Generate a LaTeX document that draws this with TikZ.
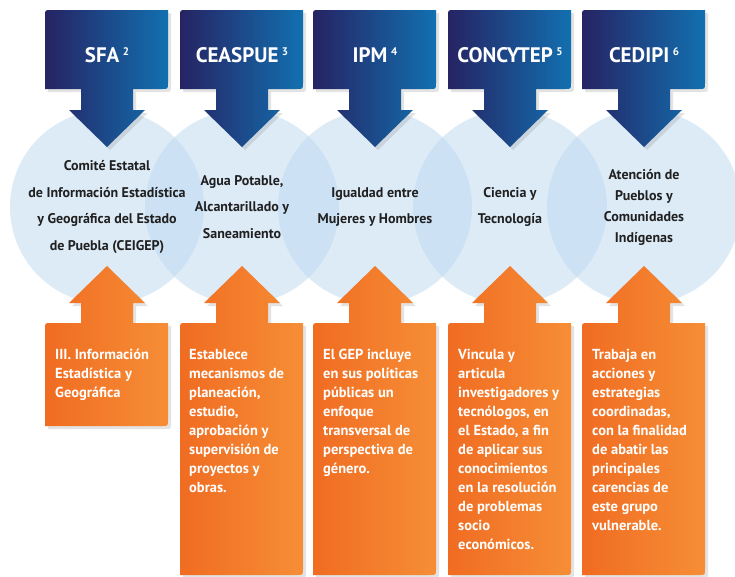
\documentclass[tikz,border=0pt]{standalone}
\usepackage{fontspec}
\setmainfont{PT Sans}
\usetikzlibrary{shadows}
\definecolor{navyL}{RGB}{38,35,99}
\definecolor{blueR}{RGB}{18,112,176}
\definecolor{orgL}{RGB}{240,108,34}
\definecolor{orgR}{RGB}{246,142,54}
\definecolor{circc}{RGB}{189,217,241}
\definecolor{txtc}{RGB}{32,32,32}
\newcommand\supnum[1]{\,{\fontsize{11}{11}\selectfont\raisebox{7pt}{#1}}}
\tikzset{
  blueshade/.style={left color=navyL, right color=blueR, drop shadow={opacity=0.22, shadow xshift=3pt, shadow yshift=-3pt}},
  orgshade/.style={left color=orgL, right color=orgR, drop shadow={opacity=0.22, shadow xshift=3pt, shadow yshift=-3pt}},
  circfill/.style={fill=circc, opacity=0.5},
  headtxt/.style={text=white, font=\bfseries\fontsize{21}{23}\selectfont, inner sep=0pt, anchor=base},
  circtxt/.style={text=txtc, font=\bfseries\fontsize{14}{26.7}\selectfont, align=center, inner sep=0pt},
  orgtxt/.style={text=white, font=\bfseries\fontsize{14.5}{19}\selectfont, align=left, inner sep=0pt, anchor=north west},
}
\begin{document}
\begin{tikzpicture}[x=1pt,y=-1pt]
\useasboundingbox (0,0) rectangle (735,576);
\fill[white] (0,0) rectangle (735,576);
% circles
\foreach \cx in {107,242,375,510,644}
  \fill[circfill] (\cx,207) circle[radius=97];
% blue arrows
\foreach \x in {45,180,313,448,582}
  \path[blueshade] (\x,89) -- (\x,16) .. controls (\x,10) .. ({\x+6},10) -- ({\x+123},10) -- ({\x+123},83) .. controls ({\x+123},89) .. ({\x+117},89) -- ({\x+88},89) -- ({\x+88},110) -- ({\x+100},110) -- ({\x+62},147) -- ({\x+24},110) -- ({\x+36},110) -- ({\x+36},89) -- cycle;
% orange arrows
\foreach \x/\b in {45/426,180/575,313/575,448/575,582/575}
  \path[orgshade] (\x,\b) -- (\x,329) .. controls (\x,323) .. ({\x+6},323) -- ({\x+36},323) -- ({\x+36},303) -- ({\x+24},303) -- ({\x+62},266) -- ({\x+100},303) -- ({\x+88},303) -- ({\x+88},323) -- ({\x+123},323) -- ({\x+123},{\b-6}) .. controls ({\x+123},\b) .. ({\x+117},\b) -- cycle;
% headings
\node[headtxt] (h1) at (107,62) {SFA\supnum{2}};
\node[headtxt] (h2) at (242,62) {CEASPUE\supnum{3}};
\node[headtxt] (h3) at (375,62) {IPM\supnum{4}};
\node[headtxt] (h4) at (510,62) {CONCYTEP\supnum{5}};
\node[headtxt] (h5) at (644,62) {CEDIPI\supnum{6}};
% circle texts
\node[circtxt] (c1) at (107,207) {Comité Estatal\\de Información Estadística\\y Geográfica del Estado\\de Puebla (CEIGEP)};
\node[circtxt] (c2) at (242,207) {Agua Potable,\\Alcantarillado y\\Saneamiento};
\node[circtxt] (c3) at (375,207) {Igualdad entre\\Mujeres y Hombres};
\node[circtxt] (c4) at (510,207) {Ciencia y\\Tecnología};
\node[circtxt, font=\bfseries\fontsize{14}{21}\selectfont] (c5) at (644,207) {Atención de\\Pueblos y\\Comunidades\\Indígenas};
% orange texts
\node[orgtxt] (o1) at (55,349) {III. Información\\Estadística y\\Geográfica};
\node[orgtxt] (o2) at (189,349) {Establece\\mecanismos de\\planeación,\\estudio,\\aprobación y\\supervisión de\\proyectos y\\obras.};
\node[orgtxt] (o3) at (323,349) {El GEP incluye\\en sus políticas\\públicas un\\enfoque\\transversal de\\perspectiva de\\género.};
\node[orgtxt] (o4) at (458,349) {Vincula y\\articula\\investigadores y\\tecnólogos, en\\el Estado, a fin\\de aplicar sus\\conocimientos\\en la resolución\\de problemas\\socio\\económicos.};
\node[orgtxt] (o5) at (592,349) {Trabaja en\\acciones y\\estrategias\\coordinadas,\\con la finalidad\\de abatir las\\principales\\carencias de\\este grupo\\vulnerable.};
\end{tikzpicture}
\end{document}
